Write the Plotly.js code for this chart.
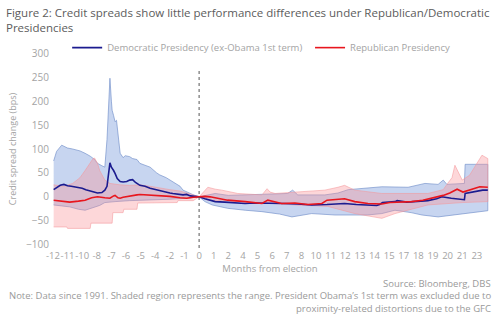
<!DOCTYPE html>
<html>
<head>
<meta charset="utf-8">
<script src="https://cdn.plot.ly/plotly-3.0.1.min.js"></script>
<style>html,body{margin:0;padding:0;background:#fff;}#chart{width:504px;height:322px;}</style>
</head>
<body>
<div id="chart"></div>
<script>
// x values are trading-day offsets from the election (20 days per tick step)
const tickVals = [-200,-180,-160,-140,-120,-100,-80,-60,-40,-20,0,20,40,60,80,100,120,140,160,180,200,220,240,260,280,300,320,340,360,380];
const tickText = ['-12','-11','-10','-8','-7','-6','-5','-4','-2','-1','0','1','2','4','5','6','7','8','10','11','12','13','14','15','17','18','19','20','21','23'];

// Democratic presidency average and range
const demX = [-199,-194,-190,-185,-180,-175,-170,-165,-160,-155,-150,-145,-139,-133,-129,-126,-124,-122,-120,-119,-117,-115,-112,-108,-104,-99,-95,-91,-87,-81,-74,-67,-62,-58,-50,-45,-40,-36,-28,-22,-17,-12,-6,0,8,15,22,35,50,63,75,83,100,115,135,154,175,199,215,231,243,247,251,268,271,284,300,313,325,332,345,360,363,364,375,384,388,395];
const demY = [15,20,24,26,23,22,21,20,18,15,13,10,8,9,14,22,45,71,62,60,55,49,38,32,31,32,35,36,30,24,22,18,16,14,12,10,8,7,6,4,5,2,1,0,-4,-7,-10,-11,-12,-14,-13,-13,-14,-14,-15,-17,-16,-14,-16,-17,-18,-16,-12,-10,-8,-11,-10,-8,-4,0,-3,-5,-6,7,10,12,14,14];
const demUpX = [-199,-195,-188,-180,-173,-163,-156,-149,-143,-139,-133,-129,-126,-123,-122,-120,-119,-117,-115,-113,-111,-109,-108,-104,-101,-95,-91,-85,-81,-74,-67,-58,-54,-45,-36,-26,-22,-13,-6,0,8,22,40,63,100,121,128,135,172,190,204,230,250,286,309,327,334,339,360,363,364,395];
const demUpY = [75,95,108,102,100,96,91,85,78,70,65,62,120,200,248,200,181,170,157,160,129,100,91,82,86,84,80,78,70,66,62,50,46,40,31,22,14,7,3,0,3,7,3,4,5,7,14,4,4,8,15,18,21,20,28,26,35,26,28,28,68,68];
const demLoX = [-199,-188,-177,-165,-156,-149,-143,-136,-129,-115,-95,-67,-40,-17,0,8,18,39,63,86,110,127,140,154,186,230,250,268,290,305,327,345,360,395];
const demLoY = [-17,-19,-21,-26,-28,-25,-22,-18,-12,-10,-8,-6,-5,-3,0,-10,-17,-24,-28,-31,-36,-42,-38,-35,-38,-38,-35,-28,-33,-38,-42,-38,-35,-29];

// Republican presidency average and range
const repX = [-199,-190,-177,-165,-156,-147,-139,-129,-122,-117,-115,-111,-108,-104,-95,-85,-81,-67,-58,-40,-26,-17,-8,0,8,15,22,39,63,86,94,104,113,131,149,168,175,199,213,231,250,261,291,306,325,334,343,353,361,370,384,395];
const repY = [-7,-8,-11,-9,-7,-2,0,-2,-3,2,3,-2,-3,-1,2,4,5,4,3,1,-2,-3,-1,0,1,0,-2,-7,-10,-14,-7,-11,-14,-13,-16,-14,-7,-4,-10,-14,-15,-12,-10,-7,0,3,8,16,10,14,21,20];
const repUpX = [-199,-185,-173,-163,-156,-149,-145,-143,-139,-136,-132,-129,-122,-108,-95,-81,-67,-54,-40,-26,-13,-6,0,8,12,22,31,53,86,93,97,104,172,190,199,213,250,313,334,340,346,350,355,360,370,380,387,395];
const repUpY = [25,22,28,40,55,70,80,81,70,55,42,35,28,25,24,25,22,18,15,12,7,3,0,12,20,16,14,7,4,17,10,7,14,20,24,14,7,7,15,28,40,66,50,35,45,70,87,80];
const repLoX = [-199,-181,-180,-149,-148,-119,-118,-104,-103,-85,-84,-63,-62,-30,-29,-8,0,12,63,131,176,213,250,268,313,360,395];
const repLoY = [-63,-63,-66,-66,-55,-55,-33,-33,-26,-26,-13,-13,-12,-12,-8,-8,0,-7,-10,-17,-20,-35,-45,-35,-17,-12,-10];

const yTicks = [-100,-50,0,50,100,150,200,250,300];

function band(upX, upY, loX, loY, fill, edge) {
  return {
    x: upX.concat(loX.slice().reverse()),
    y: upY.concat(loY.slice().reverse()),
    type: 'scatter', mode: 'lines', fill: 'toself', fillcolor: fill,
    line: {color: edge, width: 0.8}, showlegend: false, hoverinfo: 'skip'
  };
}

const traces = [
  band(demUpX, demUpY, demLoX, demLoY, 'rgba(115,150,218,0.40)', 'rgba(110,140,200,0.8)'),
  band(repUpX, repUpY, repLoX, repLoY, 'rgba(250,145,150,0.36)', 'rgba(245,150,155,0.7)'),
  {x: demX, y: demY, type: 'scatter', mode: 'lines', name: 'Democratic Presidency (ex-Obama 1st term)',
   line: {color: '#1b1b8f', width: 1.6}, legend: 'legend'},
  {x: repX, y: repY, type: 'scatter', mode: 'lines', name: 'Republican Presidency',
   line: {color: '#e8161e', width: 1.6}, legend: 'legend2'}
];

const grey = '#a4a4a4';
const noteFont = {family: 'Open Sans', size: 9.5, color: '#9a9a9a'};
const layout = {
  width: 504, height: 322,
  margin: {l: 50, r: 14, t: 50, b: 74},
  paper_bgcolor: '#fff', plot_bgcolor: '#fff',
  font: {family: 'Open Sans', color: grey, size: 10},
  showlegend: true,
  legend: {orientation: 'h', x: 0.039, xanchor: 'left', y: 1.012, yanchor: 'middle',
           font: {size: 9.5, color: grey}, bgcolor: 'rgba(0,0,0,0)'},
  legend2: {orientation: 'h', x: 0.591, xanchor: 'left', y: 1.012, yanchor: 'middle',
           font: {size: 9.5, color: grey}, bgcolor: 'rgba(0,0,0,0)'},
  xaxis: {range: [-204, 398], tickmode: 'array', tickvals: tickVals, ticktext: tickText,
          showgrid: false, zeroline: false, showline: false, ticks: '', tickangle: 0,
          ticklabeloverflow: 'allow', automargin: false,
          tickfont: {size: 9.5, color: grey},
          title: {text: 'Months from election', font: {size: 9.5, color: grey}, standoff: 4}},
  yaxis: {range: [-107, 307], tickmode: 'array', tickvals: yTicks,
          showgrid: false, zeroline: false, showline: false, ticks: '',
          tickfont: {size: 10, color: grey},
          title: {text: 'Credit spread change (bps)', font: {size: 9, color: grey}, standoff: 7}},
  shapes: [{type: 'line', xref: 'x', yref: 'y', x0: 0, x1: 0, y0: -107, y1: 267,
            line: {color: '#555', width: 1, dash: 'dot'}}],
  annotations: [
    {text: 'Figure 2: Credit spreads show little performance differences under Republican/Democratic<br>Presidencies',
     xref: 'paper', yref: 'paper', x: -0.105, y: 1.235, xanchor: 'left', yanchor: 'top', align: 'left',
     showarrow: false, font: {family: 'Open Sans', size: 11.5, color: '#5c5c5c'}},
    {text: 'Source: Bloomberg, DBS', xref: 'paper', yref: 'paper', x: 1.007, y: -0.177,
     xanchor: 'right', yanchor: 'middle', showarrow: false, font: noteFont},
    {text: 'Note: Data since 1991. Shaded region represents the range. President Obama\u2019s 1st term was excluded due to',
     xref: 'paper', yref: 'paper', x: 1.007, y: -0.242,
     xanchor: 'right', yanchor: 'middle', showarrow: false, font: noteFont},
    {text: 'proximity-related distortions due to the GFC', xref: 'paper', yref: 'paper', x: 1.007, y: -0.308,
     xanchor: 'right', yanchor: 'middle', showarrow: false, font: noteFont}
  ]
};

Plotly.newPlot('chart', traces, layout, {displayModeBar: false, staticPlot: true});
</script>
</body>
</html>
